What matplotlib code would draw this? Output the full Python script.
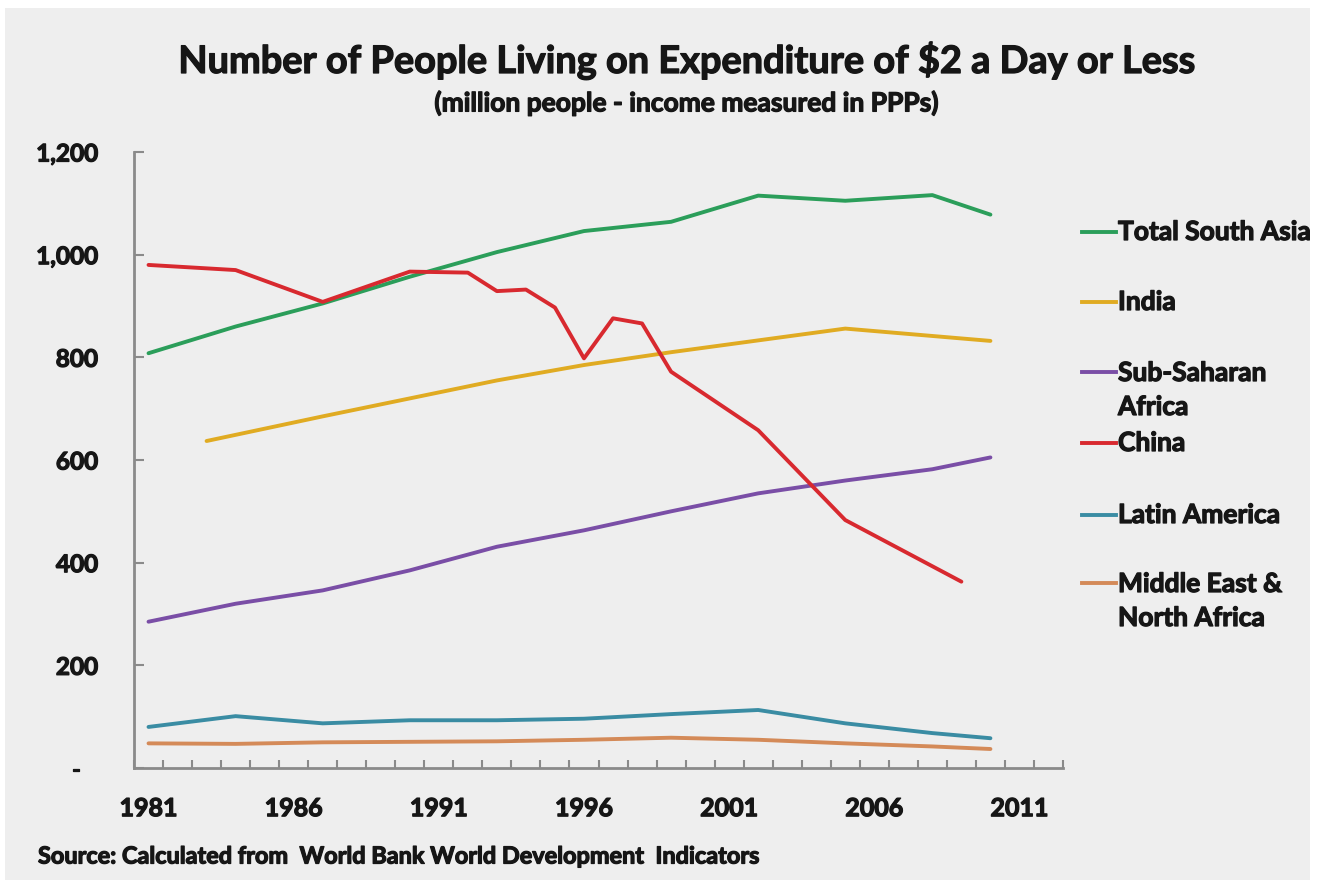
import matplotlib
matplotlib.use("Agg")
import matplotlib.pyplot as plt
import matplotlib.patheffects as pe
from matplotlib.patches import Rectangle
from matplotlib.ticker import FixedLocator, FuncFormatter

plt.rcParams['font.family'] = ['Lato', 'DejaVu Sans']
WEIGHT = 'bold'
plt.rcParams['font.weight'] = WEIGHT

# ---- data (million people) ----
south_asia_years = [1981, 1984, 1987, 1990, 1993, 1996, 1999, 2002, 2005, 2008, 2010]
south_asia = [808, 860, 905, 957, 1005, 1046, 1064, 1115, 1105, 1116, 1078]

india_years = [1983, 1987, 1990, 1993, 1996, 1999, 2002, 2005, 2010]
india = [637, 685, 720, 755, 785, 810, 833, 856, 832]

ssa_years = [1981, 1984, 1987, 1990, 1993, 1996, 1999, 2002, 2005, 2008, 2010]
ssa = [285, 320, 346, 385, 431, 463, 500, 535, 560, 582, 605]

china_years = [1981, 1984, 1987, 1990, 1992, 1993, 1994, 1995, 1996, 1997, 1998, 1999, 2002, 2005, 2009]
china = [980, 970, 908, 967, 965, 929, 932, 897, 798, 876, 866, 772, 658, 483, 363]

latam_years = [1981, 1984, 1987, 1990, 1993, 1996, 1999, 2002, 2005, 2008, 2010]
latam = [80, 101, 87, 93, 93, 96, 105, 113, 87, 68, 58]

mena_years = [1981, 1984, 1987, 1990, 1993, 1996, 1999, 2002, 2005, 2008, 2010]
mena = [48, 47, 50, 51, 52, 55, 59, 55, 48, 42, 37]

series_labels = ["Total South Asia", "India", "Sub-Saharan\nAfrica", "China",
                 "Latin America", "Middle East &\nNorth Africa"]
x_tick_labels = [1981, 1986, 1991, 1996, 2001, 2006, 2011]
y_ticks = [0, 200, 400, 600, 800, 1000, 1200]

colors = ["#2b9e5a", "#e0ab22", "#7a4ea6", "#d8292f", "#3a8ca3", "#d48a58"]

W, H, DPI = 1323, 886, 100
TXT = "#161616"
heavy = [pe.withStroke(linewidth=0.9, foreground=TXT)]

fig = plt.figure(figsize=(W / DPI, H / DPI), dpi=DPI, facecolor="white")
fig.add_artist(Rectangle((5 / W, 6 / H), 1305 / W, 872 / H, transform=fig.transFigure,
                         facecolor="#eeeeee", edgecolor="none", zorder=0))

ax = fig.add_axes([134 / W, (H - 768) / H, 929 / W, 616 / H])
ax.set_facecolor("none")

data = [(south_asia_years, south_asia), (india_years, india), (ssa_years, ssa),
        (china_years, china), (latam_years, latam), (mena_years, mena)]
for (xs, ys), c in zip(data, colors):
    ax.plot(xs, ys, color=c, lw=2.8, solid_joinstyle="round", solid_capstyle="round")

ax.set_xlim(1980.5, 2012.5)
ax.set_ylim(0, 1200)

for s in ["top", "right"]:
    ax.spines[s].set_visible(False)
for s in ["left", "bottom"]:
    ax.spines[s].set_color("#8a8a8a")
    ax.spines[s].set_linewidth(2)

ax.xaxis.set_major_locator(FixedLocator(x_tick_labels))
ax.xaxis.set_minor_locator(FixedLocator([y + 0.5 for y in range(1980, 2013)]))
ax.xaxis.set_major_formatter(FuncFormatter(lambda v, p: f"{int(v)}"))
ax.tick_params(axis="x", which="major", length=0, pad=21, labelsize=18, labelcolor=TXT)
ax.tick_params(axis="x", which="minor", direction="in", length=6, width=1.5, color="#8a8a8a")

ax.yaxis.set_major_locator(FixedLocator(y_ticks))
ax.yaxis.set_major_formatter(FuncFormatter(lambda v, p: "-   " if v == 0 else f"{int(v):,}"))
ax.tick_params(axis="y", direction="in", length=7, width=1.5, color="#8a8a8a",
               pad=26, labelsize=17.5, labelcolor=TXT)
for lab in ax.get_xticklabels() + ax.get_yticklabels():
    lab.set_fontweight(WEIGHT)
    lab.set_path_effects(heavy)

# titles
fig.text(686 / W, 1 - 60 / H, "Number of People Living on Expenditure of $2 a Day or Less",
         ha="center", va="center", fontsize=27.3, fontweight=WEIGHT, color=TXT, path_effects=heavy)
fig.text(686 / W, 1 - 103 / H, "(million people - income measured in PPPs)",
         ha="center", va="center", fontsize=19, fontweight=WEIGHT, color=TXT, path_effects=heavy)
fig.text(38 / W, 1 - 857 / H, "Source: Calculated from  World Bank World Development  Indicators",
         ha="left", va="center", fontsize=16.9, fontweight=WEIGHT, color=TXT, path_effects=heavy)

# legend (manual, to the right of plot)
legend_y = [232, 302, 390, 443, 515, 601]
for lab, c, yy in zip(series_labels, colors, legend_y):
    ly = yy if "\n" not in lab else yy - 18
    fig.add_artist(plt.Line2D([1082 / W, 1116 / W], [1 - ly / H, 1 - ly / H],
                              transform=fig.transFigure, color=c, lw=2.8))
    fig.text(1118 / W, 1 - yy / H, lab, ha="left", va="center", fontsize=19,
             fontweight=WEIGHT, color=TXT, linespacing=1.5, path_effects=heavy)

# white strip on the right edge (clips legend text like the original)
fig.add_artist(Rectangle((1310 / W, 0), 13 / W, 1, transform=fig.transFigure,
                         facecolor="white", edgecolor="none", zorder=20))

fig.savefig("out.png", dpi=DPI, facecolor="white")
